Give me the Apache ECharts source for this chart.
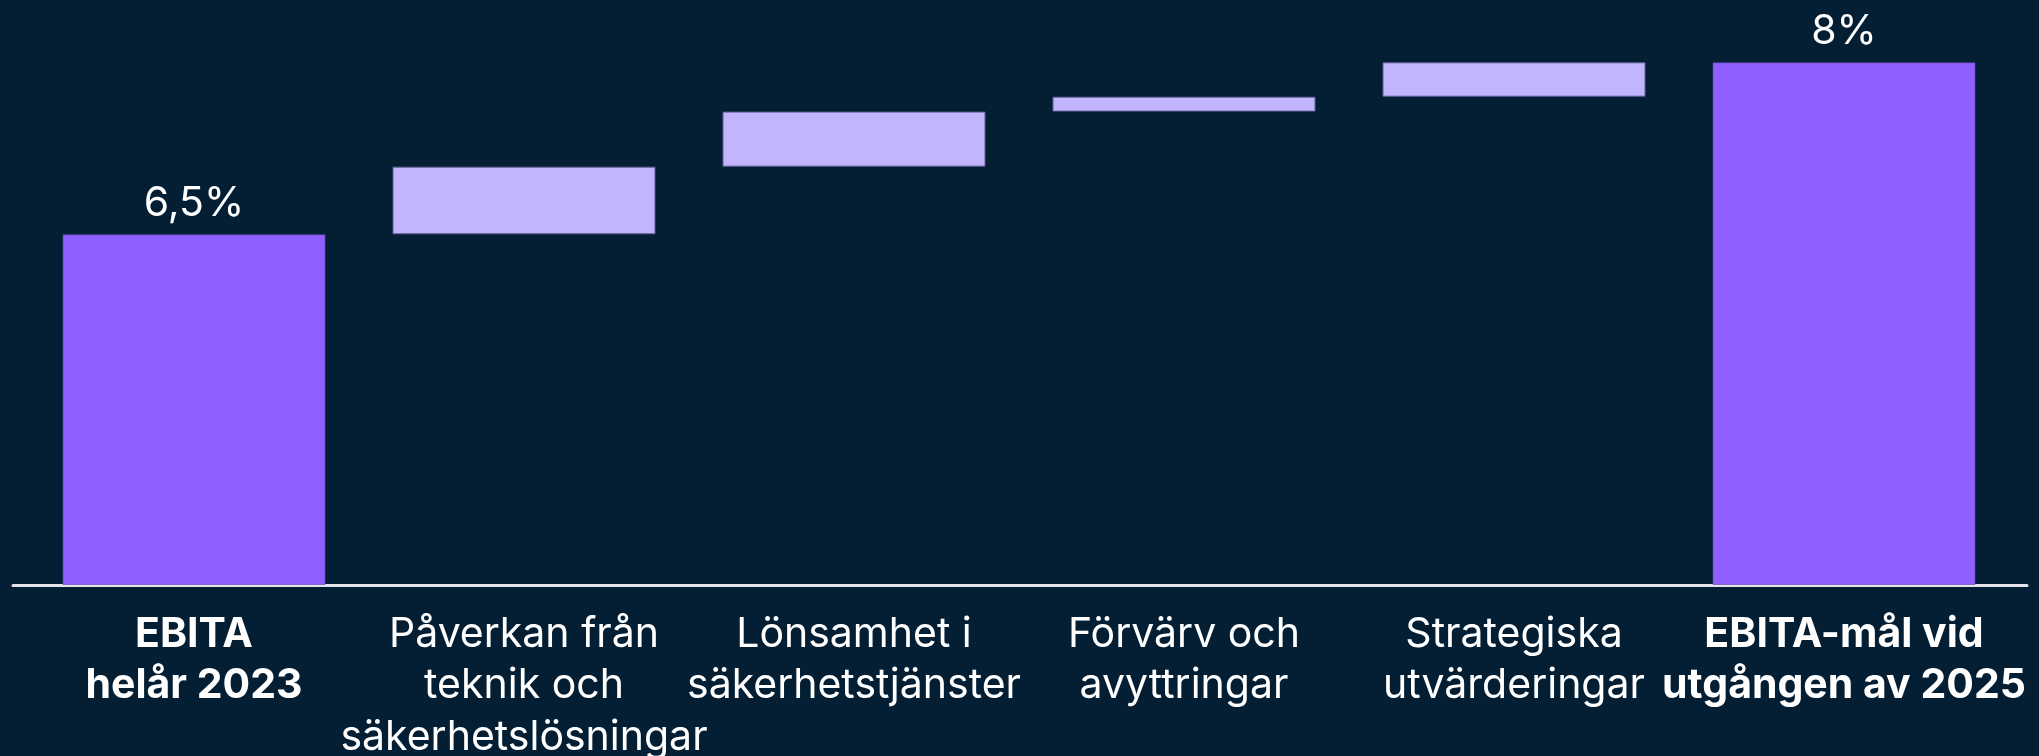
<!DOCTYPE html>
<html>
<head>
<meta charset="utf-8">
<script src="https://cdn.jsdelivr.net/npm/echarts@6/dist/echarts.min.js"></script>
<style>
html,body{margin:0;padding:0;background:#041F33;}
#c{width:2039px;height:756px;}
</style>
</head>
<body>
<div id="c"></div>
<script>
const categories = [
  'EBITA\nhelår 2023',
  'Påverkan från\nteknik och\nsäkerhetslösningar',
  'Lönsamhet i\nsäkerhetstjänster',
  'Förvärv och\navyttringar',
  'Strategiska\nutvärderingar',
  'EBITA-mål vid\nutgången av 2025'
];
const isTotal = [true, false, false, false, false, true];
const stepValues = [6.5, 0.59, 0.48, 0.13, 0.30, 8.0];
const valueLabels = ['6,5%', '', '', '', '', '8%'];

const baseValues = [];
let running = 0;
stepValues.forEach((v, i) => {
  if (isTotal[i]) { baseValues.push(0); running = v; }
  else { baseValues.push(running); running += v; }
});

const chart = echarts.init(document.getElementById('c'));
const FONT = 'Inter, "Noto Sans", sans-serif';
chart.setOption({
  backgroundColor: '#041F33',
  animation: false,
  grid: [
    {left: 29, right: 30, top: 62.3, bottom: 171.5, containLabel: false, outerBoundsMode: 'none'},
    {left: 13, right: 12, top: 62.3, bottom: 170.5, containLabel: false, outerBoundsMode: 'none'}
  ],
  xAxis: [
    {
      type: 'category', data: categories, gridIndex: 0,
      axisLine: {show: false}, axisTick: {show: false},
      axisLabel: {
        interval: 0, margin: 24, color: '#FFFFFF', fontFamily: FONT,
        fontSize: 41, lineHeight: 51.5,
        formatter: (val, idx) => isTotal[idx]
          ? val.split('\n').map(s => '{b|' + s + '}').join('\n')
          : val,
        rich: {b: {fontWeight: 'bold', fontSize: 41, lineHeight: 51.5, fontFamily: FONT, color: '#FFFFFF'}}
      }
    },
    {
      type: 'value', gridIndex: 1, min: 0, max: 1,
      axisLine: {show: true, lineStyle: {color: '#E4E4EC', width: 3}},
      axisTick: {show: false}, axisLabel: {show: false}, splitLine: {show: false}
    }
  ],
  yAxis: [
    {type: 'value', gridIndex: 0, min: 3.446, max: 8, show: false, splitLine: {show: false}},
    {type: 'value', gridIndex: 1, show: false, splitLine: {show: false}}
  ],
  series: [
    {
      type: 'bar', stack: 'w', xAxisIndex: 0, yAxisIndex: 0,
      barWidth: 263, silent: true,
      itemStyle: {color: 'transparent'},
      data: baseValues
    },
    {
      type: 'bar', stack: 'w', xAxisIndex: 0, yAxisIndex: 0,
      barWidth: 263,
      data: stepValues.map((v, i) => ({
        value: v,
        itemStyle: isTotal[i]
          ? {color: '#8F5FFF', borderColor: 'rgba(90,70,170,0.6)', borderWidth: 1}
          : {color: '#C2B4FD', borderColor: '#5D5F95', borderWidth: 1}
      })),
      label: {
        show: true, position: 'top', distance: 10,
        color: '#FFFFFF', fontFamily: FONT, fontSize: 41,
        formatter: p => valueLabels[p.dataIndex]
      }
    }
  ]
});
</script>
</body>
</html>
